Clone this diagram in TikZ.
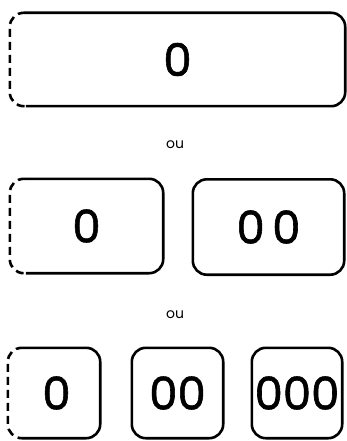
\documentclass[tikz,border=0pt]{standalone}
\usepackage{fontspec}
\setmainfont{Poppins}
\newfontfamily\digits{Poppins}[FakeBold=1.3]
\usetikzlibrary{positioning}

\begin{document}
\begin{tikzpicture}[
  x=1pt, y=-1pt,
  box/.style={rectangle, inner sep=0pt, minimum width=#1, font=\digits\fontsize{45}{45}\selectfont},
  rim/.style={line width=2.6pt, rounded corners=14pt},
  gap/.style={rim, dash pattern=on 8pt off 5pt},
  sep/.style={font=\fontsize{14}{14}\selectfont}
]
\useasboundingbox (0,0) rectangle (346,441);

% one box
\node[box=335pt, minimum height=93pt] (one) at (177.5,59.5) {0};
\node[sep] (or1) at (175,145) {ou};
% two boxes
\node[box=153pt, minimum height=94pt] (twoa) at (86.5,226) {0};
\node[box=151pt, minimum height=95pt] (twob) at (268.5,227) {0\,0};
\node[sep] (or2) at (175,315) {ou};
% three boxes
\node[box=92pt, minimum height=90pt] (threea) at (54,393) {\hspace{5pt}0};
\node[box=91pt, minimum height=90pt] (threeb) at (177.5,393) {00};
\node[box=90pt, minimum height=90pt] (threec) at (297,393) {000};

% outlines, open side dashed
\foreach \n in {one, twoa, threea} {
  \draw[rim] ([xshift=16pt]\n.north west) -- (\n.north east) -- (\n.south east) -- ([xshift=16pt]\n.south west);
  \draw[gap] ([xshift=16pt]\n.north west) -- (\n.north west) -- (\n.south west) -- ([xshift=16pt]\n.south west);
}
\foreach \n in {twob, threeb, threec}
  \draw[rim] (\n.north west) rectangle (\n.south east);
\end{tikzpicture}
\end{document}
